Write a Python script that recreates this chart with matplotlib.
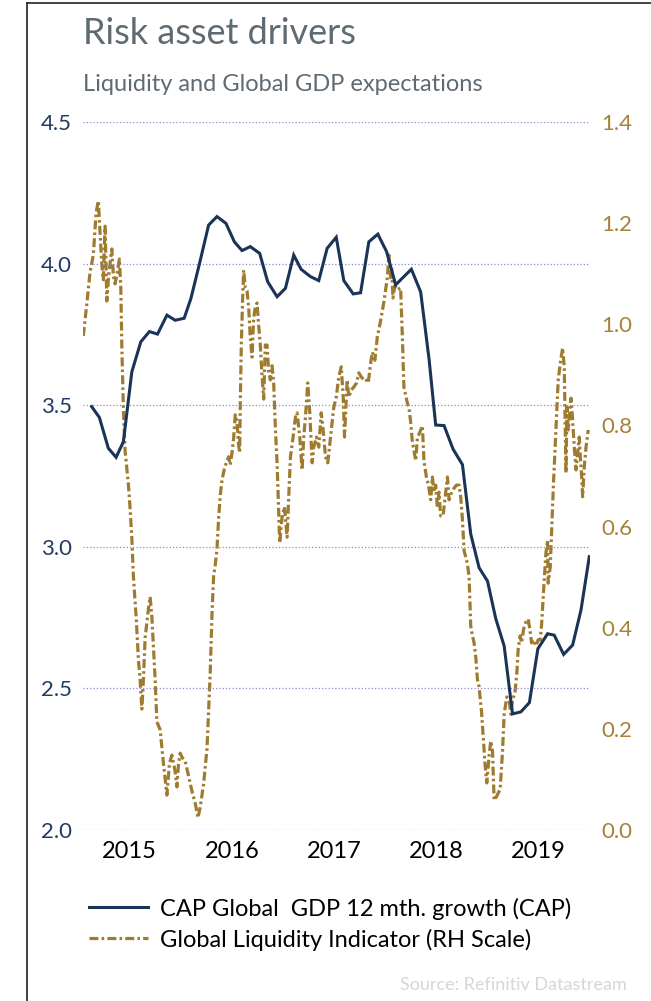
import matplotlib
matplotlib.use('Agg')
import matplotlib.pyplot as plt
from matplotlib.lines import Line2D

plt.rcParams['font.family'] = ['Lato', 'DejaVu Sans']

# CAP global GDP 12 month growth, monthly (decimal year, %)
gdp_t = [2014.627, 2014.702, 2014.790, 2014.866, 2014.937, 2015.020, 2015.108, 2015.192,
         2015.271, 2015.363, 2015.444, 2015.532, 2015.598, 2015.682, 2015.771, 2015.853,
         2015.941, 2016.023, 2016.098, 2016.179, 2016.271, 2016.349, 2016.441, 2016.523,
         2016.604, 2016.676, 2016.768, 2016.849, 2016.931, 2017.020, 2017.094, 2017.186,
         2017.258, 2017.339, 2017.427, 2017.513, 2017.601, 2017.676, 2017.755, 2017.846,
         2017.929, 2017.993, 2018.075, 2018.163, 2018.255, 2018.336, 2018.418, 2018.500,
         2018.581, 2018.663, 2018.745, 2018.826, 2018.910, 2018.993, 2019.088, 2019.153,
         2019.245, 2019.333, 2019.415, 2019.496]
gdp = [3.495, 3.457, 3.348, 3.316, 3.371, 3.618, 3.724, 3.760, 3.751, 3.818, 3.800, 3.807,
       3.877, 4.000, 4.136, 4.166, 4.142, 4.077, 4.046, 4.060, 4.036, 3.936, 3.883, 3.913,
       4.030, 3.980, 3.954, 3.940, 4.054, 4.093, 3.940, 3.893, 3.897, 4.077, 4.104, 4.042,
       3.925, 3.952, 3.980, 3.900, 3.660, 3.430, 3.428, 3.345, 3.290, 3.045, 2.926, 2.879,
       2.746, 2.650, 2.410, 2.417, 2.450, 2.640, 2.693, 2.688, 2.620, 2.653, 2.777, 2.965]

# Global liquidity indicator (RH scale)
liq_t = [2014.545, 2014.578, 2014.611, 2014.643, 2014.670, 2014.692, 2014.709, 2014.725,
         2014.741, 2014.758, 2014.775, 2014.790, 2014.807, 2014.824, 2014.839, 2014.856,
         2014.878, 2014.898, 2014.912, 2014.922, 2014.937, 2014.954, 2014.986, 2015.003,
         2015.020, 2015.035, 2015.062, 2015.084, 2015.101, 2015.118, 2015.133, 2015.150,
         2015.167, 2015.182, 2015.199, 2015.216, 2015.231, 2015.248, 2015.265, 2015.297,
         2015.329, 2015.363, 2015.388, 2015.412, 2015.444, 2015.461, 2015.476, 2015.493,
         2015.510, 2015.542, 2015.575, 2015.608, 2015.640, 2015.667, 2015.689, 2015.722,
         2015.755, 2015.771, 2015.787, 2015.804, 2015.820, 2015.836, 2015.853, 2015.869,
         2015.885, 2015.902, 2015.927, 2015.951, 2015.967, 2015.983, 2016.000, 2016.016,
         2016.032, 2016.049, 2016.065, 2016.075, 2016.081, 2016.091, 2016.104, 2016.114,
         2016.130, 2016.147, 2016.163, 2016.179, 2016.196, 2016.212, 2016.228, 2016.245,
         2016.261, 2016.277, 2016.294, 2016.310, 2016.326, 2016.343, 2016.359, 2016.375,
         2016.392, 2016.408, 2016.425, 2016.441, 2016.457, 2016.467, 2016.490, 2016.513,
         2016.539, 2016.555, 2016.572, 2016.598, 2016.621, 2016.637, 2016.663, 2016.686,
         2016.702, 2016.719, 2016.741, 2016.761, 2016.784, 2016.800, 2016.826, 2016.849,
         2016.873, 2016.892, 2016.915, 2016.937, 2016.964, 2016.996, 2017.020, 2017.045,
         2017.069, 2017.088, 2017.101, 2017.127, 2017.143, 2017.167, 2017.192, 2017.219,
         2017.241, 2017.265, 2017.290, 2017.307, 2017.333, 2017.356, 2017.373, 2017.398,
         2017.422, 2017.454, 2017.486, 2017.503, 2017.520, 2017.535, 2017.552, 2017.562,
         2017.575, 2017.594, 2017.618, 2017.650, 2017.667, 2017.682, 2017.699, 2017.716,
         2017.731, 2017.748, 2017.765, 2017.780, 2017.797, 2017.814, 2017.846, 2017.863,
         2017.878, 2017.902, 2017.922, 2017.944, 2017.961, 2017.976, 2017.993, 2018.010,
         2018.025, 2018.042, 2018.065, 2018.091, 2018.108, 2018.124, 2018.150, 2018.173,
         2018.196, 2018.222, 2018.238, 2018.255, 2018.271, 2018.287, 2018.304, 2018.320,
         2018.336, 2018.353, 2018.369, 2018.385, 2018.402, 2018.418, 2018.427, 2018.441,
         2018.461, 2018.474, 2018.493, 2018.516, 2018.532, 2018.549, 2018.565, 2018.591,
         2018.624, 2018.647, 2018.663, 2018.689, 2018.712, 2018.728, 2018.745, 2018.768,
         2018.787, 2018.800, 2018.820, 2018.833, 2018.853, 2018.875, 2018.898, 2018.918,
         2018.931, 2018.951, 2018.974, 2018.996, 2019.016, 2019.029, 2019.055, 2019.072,
         2019.088, 2019.094, 2019.114, 2019.127, 2019.147, 2019.170, 2019.192, 2019.212,
         2019.235, 2019.251, 2019.268, 2019.277, 2019.290, 2019.317, 2019.333, 2019.349,
         2019.366, 2019.382, 2019.398, 2019.408, 2019.422, 2019.431, 2019.447, 2019.464,
         2019.486]
liq = [0.977, 1.038, 1.103, 1.137, 1.220, 1.244, 1.179, 1.121, 1.088, 1.194, 1.046, 1.088,
       1.121, 1.149, 1.096, 1.080, 1.103, 1.129, 1.072, 0.955, 0.833, 0.749, 0.684, 0.635,
       0.577, 0.502, 0.421, 0.338, 0.297, 0.239, 0.297, 0.380, 0.411, 0.437, 0.461, 0.421,
       0.362, 0.297, 0.214, 0.198, 0.132, 0.069, 0.132, 0.148, 0.115, 0.085, 0.129, 0.152,
       0.144, 0.136, 0.107, 0.077, 0.053, 0.024, 0.045, 0.091, 0.160, 0.235, 0.312, 0.425,
       0.502, 0.524, 0.556, 0.617, 0.662, 0.692, 0.716, 0.730, 0.738, 0.722, 0.746, 0.775,
       0.821, 0.807, 0.761, 0.746, 0.844, 0.959, 1.050, 1.107, 1.072, 1.066, 1.034, 0.973,
       0.935, 1.012, 1.034, 1.042, 0.997, 0.959, 0.898, 0.852, 0.959, 0.959, 0.906, 0.890,
       0.918, 0.884, 0.791, 0.726, 0.627, 0.568, 0.619, 0.639, 0.579, 0.659, 0.738, 0.777,
       0.817, 0.825, 0.777, 0.712, 0.777, 0.817, 0.884, 0.825, 0.726, 0.757, 0.777, 0.757,
       0.825, 0.791, 0.738, 0.726, 0.777, 0.836, 0.856, 0.896, 0.916, 0.856, 0.777, 0.890,
       0.856, 0.870, 0.876, 0.884, 0.904, 0.896, 0.890, 0.892, 0.884, 0.922, 0.945, 0.929,
       0.975, 1.007, 1.044, 1.068, 1.092, 1.137, 1.092, 1.113, 1.052, 1.076, 1.068, 1.072,
       0.975, 0.876, 0.860, 0.844, 0.836, 0.807, 0.767, 0.751, 0.730, 0.775, 0.791, 0.799,
       0.730, 0.698, 0.682, 0.653, 0.698, 0.668, 0.682, 0.637, 0.668, 0.621, 0.621, 0.668,
       0.698, 0.653, 0.668, 0.676, 0.682, 0.682, 0.659, 0.613, 0.552, 0.540, 0.526, 0.500,
       0.403, 0.384, 0.370, 0.342, 0.297, 0.283, 0.263, 0.235, 0.176, 0.134, 0.093, 0.148,
       0.176, 0.156, 0.059, 0.067, 0.081, 0.156, 0.229, 0.263, 0.257, 0.229, 0.257, 0.271,
       0.310, 0.358, 0.384, 0.370, 0.397, 0.411, 0.417, 0.392, 0.370, 0.376, 0.364, 0.376,
       0.376, 0.405, 0.494, 0.548, 0.573, 0.488, 0.520, 0.587, 0.692, 0.791, 0.890, 0.923,
       0.953, 0.916, 0.706, 0.836, 0.791, 0.854, 0.811, 0.757, 0.712, 0.746, 0.777, 0.738,
       0.698, 0.659, 0.718, 0.757, 0.791]

years = [2015, 2016, 2017, 2018, 2019]
left_ticks = [2.0, 2.5, 3.0, 3.5, 4.0, 4.5]
right_ticks = [0.0, 0.2, 0.4, 0.6, 0.8, 1.0, 1.2, 1.4]

NAVY = '#1c3358'
GOLD = '#9e7b2f'
GOLD_TXT = '#a5823a'
NAVY_TXT = '#233a63'
GREY = '#5f6b73'
LIQ_DASH = (0, (2.8, 1.0, 0.8, 1.0))

fig = plt.figure(figsize=(6.51, 10.01), dpi=100)
ax = fig.add_axes([83 / 651, 1 - 830 / 1001, 507 / 651, 708 / 1001])
ax2 = ax.twinx()

ax.plot(gdp_t, gdp, color=NAVY, lw=2.2, solid_joinstyle='miter', zorder=3)
ax2.plot(liq_t, liq, color=GOLD, lw=2.3, linestyle=LIQ_DASH, zorder=2)
ax.set_zorder(ax2.get_zorder() + 1)
ax.patch.set_visible(False)

ax.set_xlim(2014.542, 2019.503)
ax.set_ylim(2.0, 4.5)
ax2.set_ylim(0.0, 1.4)

ax.set_xticks(years)
ax.set_xticklabels([str(y) for y in years], fontsize=17, color='black')
ax.set_yticks(left_ticks)
ax.set_yticklabels([f'{v:.1f}' for v in left_ticks], fontsize=16, color=NAVY_TXT)
ax2.set_yticks(right_ticks)
ax2.set_yticklabels([f'{v:.1f}' for v in right_ticks], fontsize=16, color=GOLD_TXT)

ax.tick_params(axis='x', length=0, pad=8)
ax.tick_params(axis='y', length=0, pad=8)
ax2.tick_params(axis='y', length=0, pad=8)

ax.grid(axis='y', color='#8a8ac8', linestyle=':', linewidth=0.9)
ax.grid(axis='x', visible=False)
for a in (ax, ax2):
    for s in a.spines.values():
        s.set_visible(False)

fig.text(83 / 651, 1 - 44 / 1001, 'Risk asset drivers', fontsize=26, color=GREY,
         ha='left', va='baseline')
fig.text(83 / 651, 1 - 91 / 1001, 'Liquidity and Global GDP expectations', fontsize=17,
         color=GREY, ha='left', va='baseline')

handles = [Line2D([], [], color=NAVY, lw=2.2),
           Line2D([], [], color=GOLD, lw=2.3, linestyle=LIQ_DASH)]
labels = ['CAP Global  GDP 12 mth. growth (CAP)', 'Global Liquidity Indicator (RH Scale)']
fig.legend(handles, labels, loc='upper left', bbox_to_anchor=(80 / 651, 1 - 888 / 1001),
           frameon=False, fontsize=17, handlelength=2.5, handletextpad=0.5,
           labelspacing=0.38, borderaxespad=0)

fig.text(627 / 651, 1 - 990 / 1001, 'Source: Refinitiv Datastream', fontsize=13,
         color='#d6d6d6', ha='right', va='baseline')

# frame lines on the left and top
fig.add_artist(Line2D([27 / 651, 27 / 651], [0, 1 - 3 / 1001], color='#222222', lw=1.2))
fig.add_artist(Line2D([27 / 651, 1], [1 - 3 / 1001, 1 - 3 / 1001], color='#222222', lw=1.2))

fig.savefig('out.png', dpi=100)
